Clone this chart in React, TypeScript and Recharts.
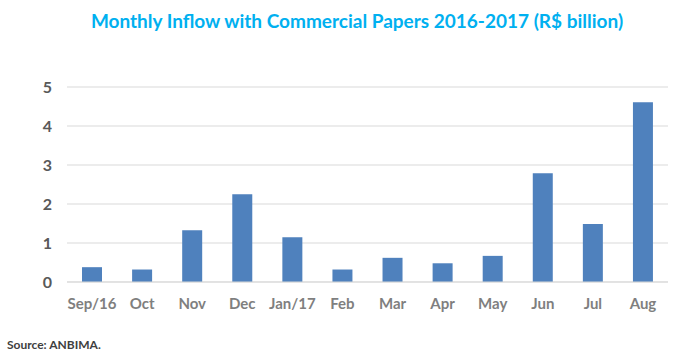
import React from "react";
import { BarChart, Bar, XAxis, YAxis, CartesianGrid } from "recharts";

const months = ["Sep/16", "Oct", "Nov", "Dec", "Jan/17", "Feb", "Mar", "Apr", "May", "Jun", "Jul", "Aug"];
const inflow = [0.38, 0.32, 1.33, 2.25, 1.15, 0.32, 0.62, 0.48, 0.67, 2.79, 1.49, 4.61];
const yTicks = [0, 1, 2, 3, 4, 5];

const data = months.map((m, i) => ({ month: m, value: inflow[i] }));

const font = "Lato, 'Open Sans', sans-serif";

const App: React.FC = () => {
  return (
    <div style={{ position: "absolute", left: 0, top: 0, width: 700, height: 354, background: "#fff", fontFamily: font }}>
      <div
        style={{
          position: "absolute",
          left: 0,
          top: 8,
          width: 714,
          textAlign: "center",
          color: "#00b0f0",
          fontWeight: 700,
          fontSize: 19,
          lineHeight: "26px",
        }}
      >
        Monthly Inflow with Commercial Papers 2016-2017 (R$ billion)
      </div>
      <BarChart
        width={700}
        height={354}
        data={data}
        margin={{ top: 87, right: 32, bottom: 42, left: 17 }}
        barCategoryGap="30%"
      >
        <CartesianGrid vertical={false} stroke="#d9d9d9" strokeWidth={1} />
        <XAxis
          dataKey="month"
          height={30}
          axisLine={{ stroke: "#d9d9d9" }}
          tickLine={false}
          tickMargin={10}
          interval={0}
          tick={{ fill: "#7f7f7f", fontSize: 15, fontWeight: 700, fontFamily: font }}
        />
        <YAxis
          width={50}
          domain={[0, 5]}
          ticks={yTicks}
          axisLine={false}
          tickLine={false}
          tickMargin={9}
          tick={{ fill: "#595959", fontSize: 16, fontWeight: 700, fontFamily: font }}
        />
        <Bar dataKey="value" fill="#4f81bd" isAnimationActive={false} />
      </BarChart>
      <div
        style={{
          position: "absolute",
          left: 7,
          top: 338,
          color: "#404040",
          fontWeight: 700,
          fontSize: 12,
          lineHeight: "14px",
        }}
      >
        Source: ANBIMA.
      </div>
    </div>
  );
};

export default App;
